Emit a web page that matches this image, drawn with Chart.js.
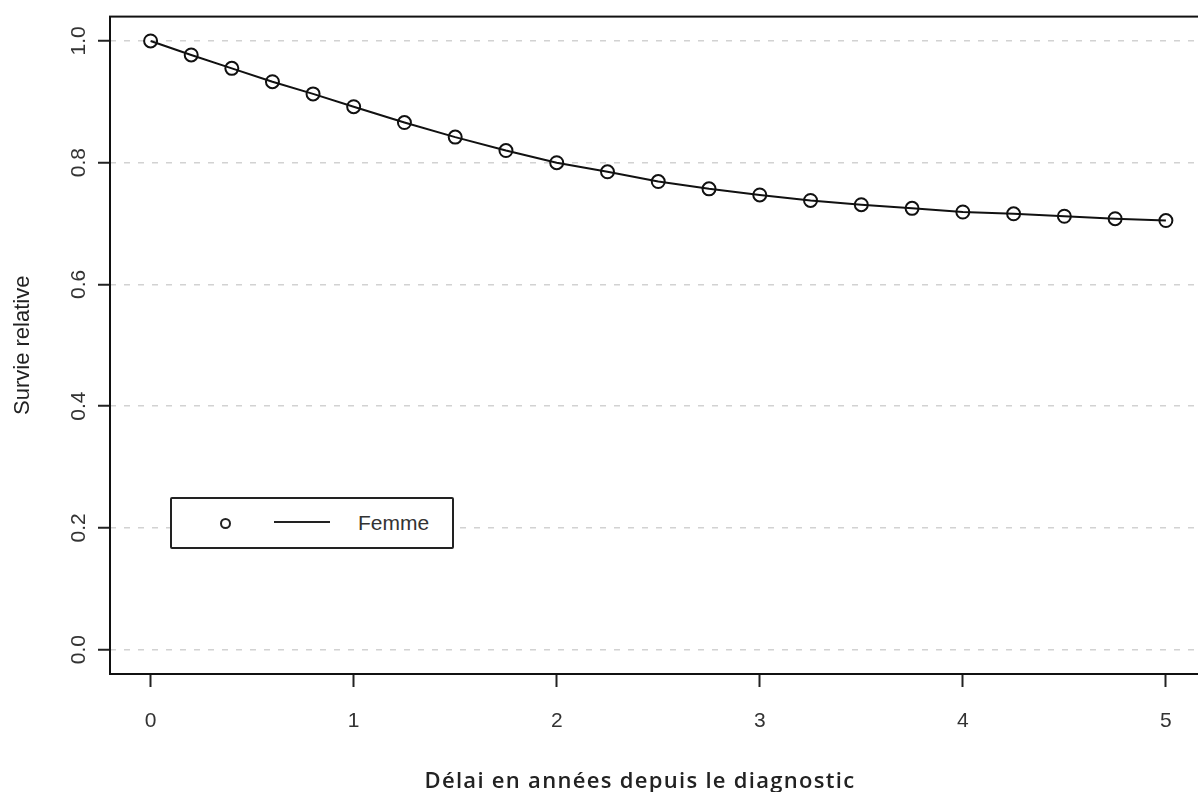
<!DOCTYPE html>
<html>
<head>
<meta charset="utf-8">
<script src="https://cdn.jsdelivr.net/npm/chart.js@4/dist/chart.umd.min.js"></script>
<style>
  html, body { margin: 0; padding: 0; background: #fff; overflow: hidden; width: 1198px; height: 792px; }
  #wrap { position: relative; width: 1215px; height: 792px; }
  #legend { position: absolute; left: 170px; top: 497px; width: 280px; height: 48px;
            border: 2px solid #222; border-radius: 2px; background: #fff; box-sizing: content-box; }
  #legend .pt { position: absolute; left: 48px; top: 19px; width: 7px; height: 7px; border: 2px solid #222; border-radius: 50%; }
  #legend .ln { position: absolute; left: 102px; top: 22px; width: 56px; height: 2px; background: #222; }
  #legend .tx { position: absolute; left: 186px; top: 12px; font: 21px "Liberation Sans", Arial, sans-serif; color: #333; }
</style>
</head>
<body>
<div id="wrap">
  <canvas id="c" width="1215" height="792"></canvas>
  <div id="legend"><span class="pt"></span><span class="ln"></span><span class="tx"></span></div>
</div>
<script>
// ---- data ----
const years = [0, 0.2, 0.4, 0.6, 0.8, 1, 1.25, 1.5, 1.75, 2, 2.25, 2.5, 2.75, 3, 3.25, 3.5, 3.75, 4, 4.25, 4.5, 4.75, 5];
const survieFemme = [1.0, 0.977, 0.955, 0.933, 0.913, 0.892, 0.866, 0.842, 0.820, 0.800, 0.785, 0.769, 0.757, 0.747, 0.738, 0.731, 0.725, 0.719, 0.716, 0.712, 0.708, 0.705];
const seriesLabel = "Femme";
const xTicks = [0, 1, 2, 3, 4, 5];
const yTicks = [0.0, 0.2, 0.4, 0.6, 0.8, 1.0];
const xTitle = "Délai en années depuis le diagnostic";
const yTitle = "Survie relative";

const points = years.map((x, i) => ({ x: x, y: survieFemme[i] }));

const framePlugin = {
  id: 'frame',
  afterDraw(chart) {
    const a = chart.chartArea, ctx = chart.ctx;
    ctx.save();
    ctx.strokeStyle = '#111';
    ctx.lineWidth = 2;
    ctx.strokeRect(a.left, a.top, a.right - a.left, a.bottom - a.top);
    ctx.restore();
  }
};

// x-axis title drawn as canvas text with slight letter spacing (as in the reference typesetting)
const xTitlePlugin = {
  id: 'xTitle',
  afterDraw(chart) {
    const ctx = chart.ctx;
    ctx.save();
    ctx.font = '600 22px "Open Sans", sans-serif';
    if ('letterSpacing' in ctx) ctx.letterSpacing = '1.3px';
    ctx.fillStyle = '#222';
    ctx.textAlign = 'center';
    ctx.textBaseline = 'alphabetic';
    ctx.fillText(xTitle, 640, 788);
    ctx.restore();
  }
};

const tickFont = { family: '"Liberation Sans", Arial, sans-serif', size: 21 };

const chart = new Chart(document.getElementById('c'), {
  type: 'line',
  data: {
    datasets: [{
      label: seriesLabel,
      data: points,
      borderColor: '#111',
      borderWidth: 2,
      tension: 0,
      fill: false,
      pointStyle: 'circle',
      pointRadius: 6.5,
      pointBorderWidth: 2,
      pointBorderColor: '#111',
      pointBackgroundColor: 'rgba(0,0,0,0)'
    }]
  },
  options: {
    responsive: false,
    animation: false,
    devicePixelRatio: 1,
    layout: { padding: { top: 15, right: 6, left: 0, bottom: 0 } },
    plugins: { legend: { display: false }, tooltip: { enabled: false } },
    scales: {
      x: {
        type: 'linear',
        min: -0.2, max: 5.2,
        afterBuildTicks: (s) => { s.ticks = xTicks.map(v => ({ value: v })); },
        afterFit: (s) => { s.height = 118; },
        grid: { drawOnChartArea: false, tickColor: '#222', tickLength: 13, tickWidth: 2 },
        border: { display: false },
        ticks: { font: tickFont, color: '#333', padding: 22, maxRotation: 0, callback: (v) => String(v) },
        title: { display: false }
      },
      y: {
        type: 'linear',
        min: -0.04, max: 1.04,
        afterBuildTicks: (s) => { s.ticks = yTicks.map(v => ({ value: v })); },
        afterFit: (s) => { s.width = 110; },
        grid: { color: '#d2d2d2', lineWidth: 1.5, tickColor: '#222', tickLength: 12, tickWidth: 2 },
        border: { display: false, dash: [6, 8] },
        ticks: { font: tickFont, color: '#333', padding: 4, minRotation: 90, maxRotation: 90, crossAlign: 'center', callback: (v) => Number(v).toFixed(1) },
        title: { display: true, text: yTitle, color: '#222', font: { family: '"Liberation Sans", Arial, sans-serif', size: 22 }, padding: { top: 10, bottom: 0 } }
      }
    }
  },
  plugins: [framePlugin, xTitlePlugin]
});

// HTML legend built from the dataset
document.querySelector('#legend .tx').textContent = chart.data.datasets[0].label;
</script>
</body>
</html>
